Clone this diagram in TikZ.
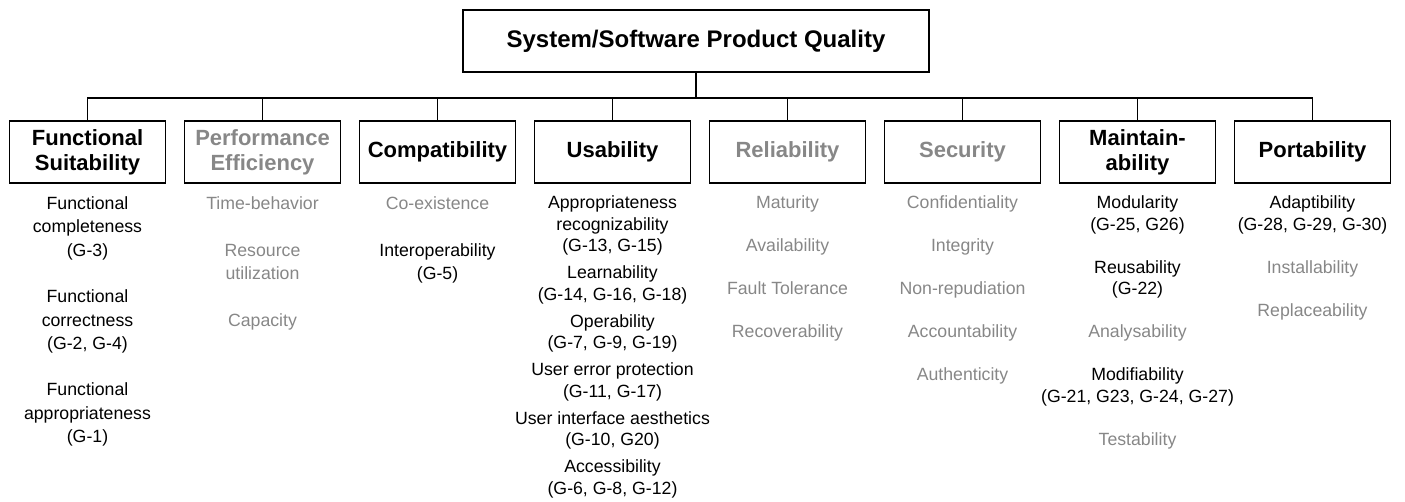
\documentclass[tikz,border=0pt]{standalone}
\usepackage{fontspec}
\setmainfont{Liberation Sans}
\definecolor{inact}{RGB}{135,135,135}
\begin{document}
\begin{tikzpicture}[x=1pt,y=1pt,
  titlebox/.style={draw=black, line width=1.7pt, minimum width=466pt, minimum height=62pt, inner sep=0pt, font=\fontsize{24}{28}\selectfont\bfseries},
  hbox/.style={draw=black, line width=1.7pt, minimum width=156pt, minimum height=62pt, inner sep=0pt, align=center, font=\fontsize{22}{25}\selectfont\bfseries},
  greyhead/.style={hbox, text=inact},
  conn/.style={draw=black, line width=1.5pt},
  subwide/.style={anchor=north, inner sep=0pt, align=center, font=\fontsize{17.7}{23.3}\selectfont},
  subtight/.style={anchor=north, inner sep=0pt, align=center, font=\fontsize{17.7}{21.5}\selectfont},
]
\useasboundingbox (0,0) rectangle (1405,-501);

\node[titlebox] (top) at (696,-41) {System/Software Product Quality};

\node[hbox]     (h0) at (87.5,-152)  {Functional\\Suitability};
\node[greyhead] (h1) at (262.5,-152) {Performance\\Efficiency};
\node[hbox]     (h2) at (437.5,-152) {Compatibility};
\node[hbox]     (h3) at (612.5,-152) {Usability};
\node[greyhead] (h4) at (787.5,-152) {Reliability};
\node[greyhead] (h5) at (962.5,-152) {Security};
\node[hbox]     (h6) at (1137.5,-152) {Maintain-\\ability};
\node[hbox]     (h7) at (1312.5,-152) {Portability};

\foreach \k in {0,...,7}
  \draw[conn] (top.south) -- ++(0,-25) -| (h\k.north);

\node[subwide] (s0) at (87.5,-196.5) {Functional\\completeness\\(G-3)\\[23.3pt]Functional\\correctness\\(G-2, G-4)\\[23.3pt]Functional\\appropriateness\\(G-1)};
\node[subwide, text=inact] (s1) at (262.5,-196.5) {Time-behavior\\[23.3pt]Resource\\utilization\\[23.3pt]Capacity};
\node[subwide] (s2) at (437.5,-196.5) {\textcolor{inact}{Co-existence}\\[23.3pt]Interoperability\\(G-5)};
\node[subtight] (s3) at (612.5,-195.5) {Appropriateness\\recognizability\\(G-13, G-15)\\[5.5pt]Learnability\\(G-14, G-16, G-18)\\[5.5pt]Operability\\(G-7, G-9, G-19)\\[5.5pt]User error protection\\(G-11, G-17)\\[5.5pt]User interface aesthetics\\(G-10, G20)\\[5.5pt]Accessibility\\(G-6, G-8, G-12)};
\node[subtight, text=inact] (s4) at (787.5,-195.5) {Maturity\\[21.5pt]Availability\\[21.5pt]Fault Tolerance\\[21.5pt]Recoverability};
\node[subtight, text=inact] (s5) at (962.5,-195.5) {Confidentiality\\[21.5pt]Integrity\\[21.5pt]Non-repudiation\\[21.5pt]Accountability\\[21.5pt]Authenticity};
\node[subtight] (s6) at (1137.5,-195.5) {Modularity\\(G-25, G26)\\[21.5pt]Reusability\\(G-22)\\[21.5pt]\textcolor{inact}{Analysability}\\[21.5pt]Modifiability\\(G-21, G23, G-24, G-27)\\[21.5pt]\textcolor{inact}{Testability}};
\node[subtight] (s7) at (1312.5,-195.5) {Adaptibility\\(G-28, G-29, G-30)\\[21.5pt]\textcolor{inact}{Installability}\\[21.5pt]\textcolor{inact}{Replaceability}};
\end{tikzpicture}
\end{document}
